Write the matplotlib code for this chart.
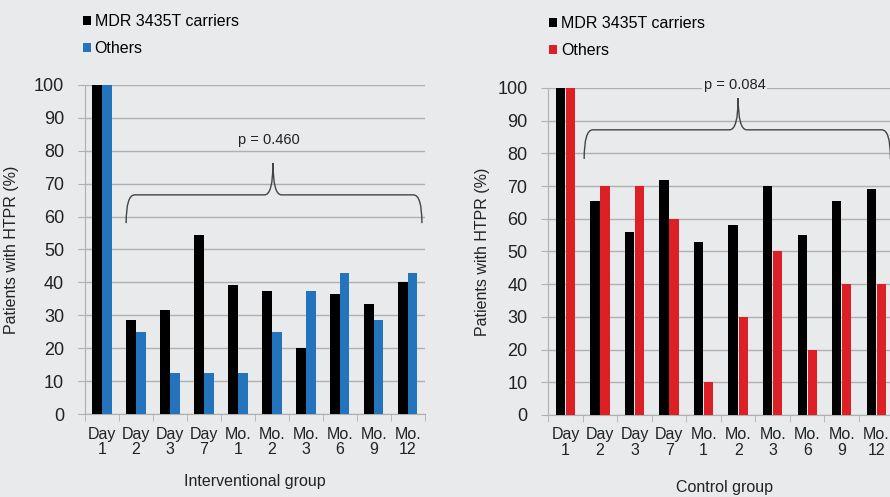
import numpy as np
import matplotlib.pyplot as plt
from matplotlib.path import Path
from matplotlib.patches import PathPatch

# categories and values
labels = ['Day\n1', 'Day\n2', 'Day\n3', 'Day\n7', 'Mo.\n1', 'Mo.\n2',
          'Mo.\n3', 'Mo.\n6', 'Mo.\n9', 'Mo.\n12']
interv_carriers = [100, 28.5, 31.5, 54.5, 39.3, 37.5, 20, 36.5, 33.3, 40]
interv_others = [100, 25, 12.5, 12.5, 12.5, 25, 37.5, 42.8, 28.5, 42.8]
control_carriers = [100, 65.5, 56, 72, 53, 58, 70, 55, 65.5, 69]
control_others = [100, 70, 70, 60, 10, 30, 50, 20, 40, 40]

bg = '#e9eaec'
grid_c = '#b0b0b0'
blue = '#2373bd'
red = '#dc2026'

plt.rcParams['font.family'] = ['Liberation Sans', 'DejaVu Sans']

fig = plt.figure(figsize=(8.9, 4.97), dpi=100)
fig.patch.set_facecolor(bg)


def brace(ax, x0, x1, xt, yend, ymid, ytip, d=0.25):
    # curly bracket drawn as a bezier path
    verts = [(x0, yend), (x0, ymid), (x0 + d, ymid),
             (xt - d, ymid),
             (xt, ymid), (xt, ytip),
             (xt, ymid), (xt + d, ymid),
             (x1 - d, ymid),
             (x1, ymid), (x1, yend)]
    codes = [Path.MOVETO, Path.CURVE3, Path.CURVE3,
             Path.LINETO,
             Path.CURVE3, Path.CURVE3,
             Path.CURVE3, Path.CURVE3,
             Path.LINETO,
             Path.CURVE3, Path.CURVE3]
    ax.add_patch(PathPatch(Path(verts, codes), fill=False, lw=1.0,
                           ec='#444444', clip_on=False, zorder=5))


def panel(rect, a, b, col, xlabel, ylabelpad, legpos):
    ax = fig.add_axes(rect)
    ax.set_facecolor(bg)
    x = np.arange(len(labels))
    w = 0.27
    h1 = ax.bar(x - 0.145, a, w, color='black', zorder=3, label='MDR 3435T carriers')
    h2 = ax.bar(x + 0.145, b, w, color=col, zorder=3, label='Others')
    ax.set_xlim(-0.5, len(labels) - 0.5)
    ax.set_ylim(0, 100)
    ax.set_yticks(range(0, 101, 10))
    ax.yaxis.grid(True, color=grid_c, lw=1.0)
    ax.set_axisbelow(True)
    for s in ['top', 'right']:
        ax.spines[s].set_visible(False)
    for s in ['left', 'bottom']:
        ax.spines[s].set_color(grid_c)
    ax.set_xticks(x)
    ax.set_xticklabels(labels, fontsize=11.5, linespacing=1.05)
    ax.set_xticks(np.arange(-0.5, len(labels)), minor=True)
    ax.tick_params(axis='x', which='major', length=0, pad=9, colors='#222222')
    ax.tick_params(axis='x', which='minor', length=5, color=grid_c)
    ax.tick_params(axis='y', length=5, color=grid_c, pad=10, labelsize=13,
                   colors='#222222')
    ax.set_ylabel('Patients with HTPR (%)', fontsize=11.5, color='#222222',
                  labelpad=ylabelpad)
    ax.set_xlabel(xlabel, fontsize=11.5, color='#222222', labelpad=12)
    ax.legend(handles=[h1, h2], loc='upper left', bbox_to_anchor=legpos,
              bbox_transform=fig.transFigure, frameon=False, fontsize=11.5,
              handlelength=0.5, handleheight=0.5, handletextpad=0.25,
              labelspacing=0.75, borderpad=0, borderaxespad=0)
    return ax


ax1 = panel([0.0955, 0.167, 0.382, 0.662], interv_carriers, interv_others, blue,
            'Interventional group', 11, (0.093, 0.972))
brace(ax1, 0.71, 9.41, 5.03, 58, 66.6, 76.3)
ax1.text(4.9, 83.3, 'p = 0.460', ha='center', va='center', fontsize=10.5,
         color='#222222')

ax2 = panel([0.616, 0.165, 0.388, 0.658], control_carriers, control_others, red,
            'Control group', 5, (0.617, 0.968))
ax2.xaxis.label.set_position((0.51, 0))
ax2.xaxis.labelpad = 16
brace(ax2, 0.54, 9.41, 5.0, 78.3, 87.2, 96.9)
ax2.text(4.9, 100.9, 'p = 0.084', ha='center', va='center', fontsize=10.5,
         color='#222222', bbox=dict(fc=bg, ec='none', pad=1), clip_on=False)

fig.savefig('out.png', dpi=100, facecolor=bg)
